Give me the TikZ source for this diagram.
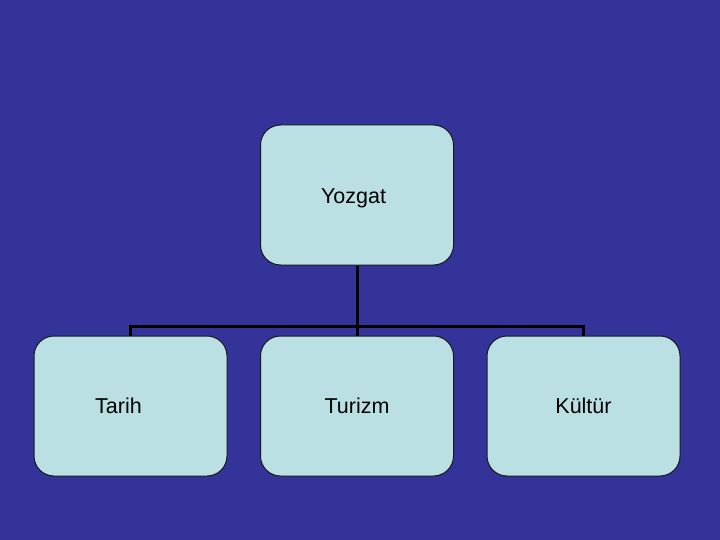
\documentclass[tikz,border=0pt]{standalone}
\usepackage{fontspec}
\setmainfont{Liberation Sans}
\definecolor{bg}{HTML}{333399}
\definecolor{boxfill}{HTML}{BBE0E3}
\begin{document}
\begin{tikzpicture}[x=1pt,y=-1pt,
  box/.style={draw=black!90, line width=1pt, fill=boxfill, rounded corners=20pt,
    minimum width=193pt, minimum height=140pt, inner sep=0pt},
  txt/.style={font=\fontsize{21.5pt}{24pt}\selectfont, inner sep=0pt},
  conn/.style={line width=3pt, black}]
\fill[bg] (0,0) rectangle (720,540);
\useasboundingbox (0,0) rectangle (720,540);
\node[box, label={[txt, xshift=-3.5pt, yshift=-3pt]center:Yozgat}] (yoz) at (357,195) {};
\node[box, label={[txt, xshift=-12pt]center:Tarih}] (tar) at (130.5,406) {};
\node[box, label={[txt]center:Turizm}] (tur) at (357,406) {};
\node[box, label={[txt]center:Kültür}] (kul) at (583.5,406) {};
\coordinate (mid) at (357,326);
\draw[conn] (yoz.south) -- (mid);
\draw[conn] (tar.north) |- (mid) -| (kul.north);
\draw[conn] (mid) -- (tur.north);
\end{tikzpicture}
\end{document}
